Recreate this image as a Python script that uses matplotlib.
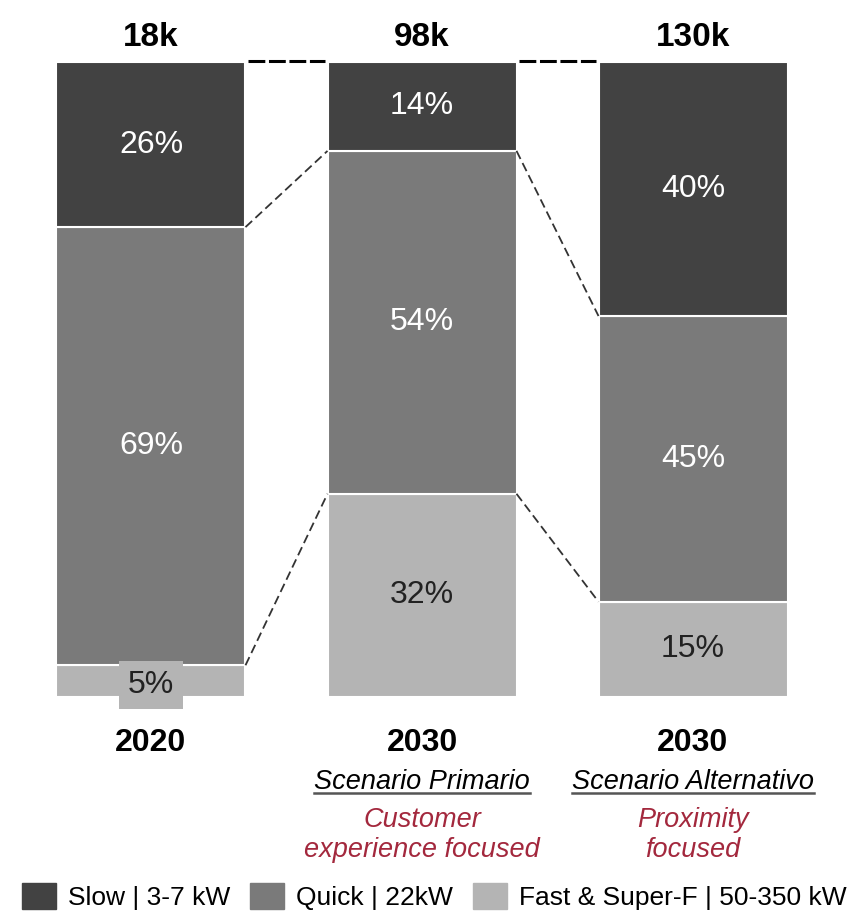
import matplotlib
matplotlib.use("Agg")
import matplotlib.pyplot as plt
import matplotlib.transforms as mtrans
from matplotlib.patches import Patch

plt.rcParams['font.family'] = ['Liberation Sans', 'DejaVu Sans']

totals = ['18k', '98k', '130k']
years = ['2020', '2030', '2030']
scenarios = ['', 'Scenario Primario', 'Scenario Alternativo']
focus_l1 = ['', 'Customer', 'Proximity']
focus_l2 = ['', 'experience focused', 'focused']
series = ['Slow | 3-7 kW', 'Quick | 22kW', 'Fast & Super-F | 50-350 kW']
slow = [26, 14, 40]
quick = [69, 54, 45]
fast = [5, 32, 15]

colors = ['#424242', '#7a7a7a', '#b4b4b4']
txtcol = ['white', 'white', '#222222']

fig = plt.figure(figsize=(8.61, 9.16), dpi=100)
W, H = 861, 916
ax = fig.add_axes([0, (H - 697) / H, 1, 635 / H])
spacing = 271
c0 = 151
ax.set_xlim(-c0 / spacing, (W - c0) / spacing)
ax.set_ylim(0, 100)
ax.axis('off')

# x in data, y in figure pixels from top
tr = mtrans.blended_transform_factory(ax.transData, fig.transFigure)
def py(p):
    return 1 - p / H

x = [0, 1, 2]
bw = 189 / spacing
stack = [fast, quick, slow]
cols = [colors[2], colors[1], colors[0]]
tcols = [txtcol[2], txtcol[1], txtcol[0]]
bottoms = [0, 0, 0]
bounds = []
for vals, col, tc in zip(stack, cols, tcols):
    ax.bar(x, vals, bw, bottom=bottoms, color=col, edgecolor='white', linewidth=1.5)
    for i in x:
        yc = bottoms[i] + vals[i] / 2
        if vals[i] < 8:
            ax.text(i, yc - 0.6, f'{vals[i]}%', ha='center', va='center', fontsize=23, color=tc,
                    bbox=dict(boxstyle='square,pad=0.28', fc=col, ec='none'))
        else:
            ax.text(i, yc, f'{vals[i]}%', ha='center', va='center', fontsize=23, color=tc)
    bottoms = [b + v for b, v in zip(bottoms, vals)]
    bounds.append(list(bottoms))

# connectors
for i in range(2):
    xa = i + bw / 2
    xb = i + 1 - bw / 2
    ax.plot([xa + 0.01, xb - 0.01], [100.2, 100.2], color='black', lw=2.2, ls=(0, (5.5, 1.2)), clip_on=False)
    for b in bounds[:2]:
        ax.plot([xa, xb], [b[i], b[i + 1]], color='#333333', lw=1.3, ls=(0, (5, 2.5)), clip_on=False)

for i in x:
    ax.text(i, py(46), totals[i], ha='center', va='baseline', fontsize=24, fontweight='bold', transform=tr)
    ax.text(i, py(751), years[i], ha='center', va='baseline', fontsize=23, fontweight='bold', transform=tr)
    if scenarios[i]:
        ax.text(i, py(789), scenarios[i], ha='center', va='baseline', fontsize=19.5, style='italic', transform=tr)
        ax.text(i, py(827), focus_l1[i], ha='center', va='baseline', fontsize=19.5, style='italic',
                color='#a3283d', transform=tr)
        ax.text(i, py(857), focus_l2[i], ha='center', va='baseline', fontsize=19.5, style='italic',
                color='#a3283d', transform=tr)

# underline scenarios
fig.canvas.draw()
r = fig.canvas.get_renderer()
for t in ax.texts:
    if t.get_text() in scenarios[1:]:
        bb = t.get_window_extent(renderer=r)
        yv = py(793)
        fig.add_artist(plt.Line2D([bb.x0 / W, bb.x1 / W], [yv, yv], color='#555555', lw=1.8))

handles = [Patch(color=c) for c in colors]
fig.legend(handles, series, loc='lower left', bbox_to_anchor=(0.01, -0.008), ncol=3, frameon=False,
           fontsize=19, handlelength=1.3, handleheight=1.15, handletextpad=0.45, columnspacing=0.75,
           borderaxespad=0.1)

fig.savefig('out.png', dpi=100)
